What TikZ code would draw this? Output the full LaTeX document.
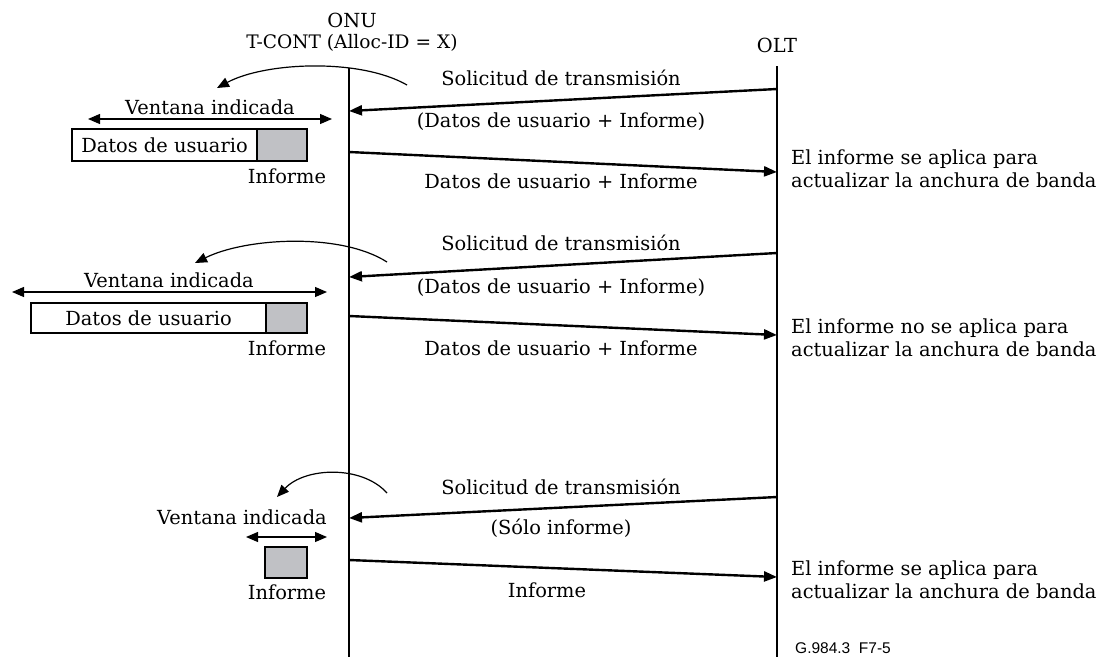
\documentclass[tikz,border=0pt]{standalone}
\usepackage{fontspec}
\setmainfont{DejaVu Serif}
\newfontfamily\figsans{Liberation Sans}
\usetikzlibrary{arrows.meta}
\definecolor{repgray}{RGB}{192,193,197}
\tikzset{
  lbl/.style={font=\fontsize{19.4}{23}\selectfont, inner sep=0pt},
  lifeline/.style={line width=1.5pt},
  msg/.style={line width=2.4pt, -{Triangle[length=13pt,width=10pt]}},
  curv/.style={line width=1.2pt, -{Triangle[length=12pt,width=10pt]}},
  win/.style={line width=1.2pt, {Triangle[length=12pt,width=10pt]}-{Triangle[length=12pt,width=10pt]}},
  databox/.style={draw, line width=1.4pt, fill=white, inner sep=0pt, outer sep=0pt, font=\fontsize{19.4}{23}\selectfont},
  repbox/.style={draw, line width=1.4pt, fill=repgray, inner sep=0pt, outer sep=0pt},
  sidetxt/.style={font=\fontsize{19.4}{23}\selectfont, inner sep=0pt, anchor=west, align=left}
}
\begin{document}
\begin{tikzpicture}[x=1pt,y=-1pt]
\useasboundingbox (0,0) rectangle (1099,659);
% headers
\node[lbl] (onu) at (352,20) {ONU};
\node[lbl, font=\fontsize{18.6}{22}\selectfont] (tcont) at (352,43) {T-CONT (Alloc-ID = X)};
\node[lbl] (olt) at (777,45) {OLT};
% lifelines
\coordinate (onuT) at (349,68);
\coordinate (onuB) at (349,657);
\coordinate (oltT) at (777,66);
\coordinate (oltB) at (777,657);
\draw[lifeline] (onuT) -- (onuB);
\draw[lifeline] (oltT) -- (oltB);

% ---------- group 1 ----------
\coordinate (r1s) at (777,89);
\coordinate (r1e) at (349,111);
\coordinate (d1s) at (349,152);
\coordinate (d1e) at (777,172);
\draw[msg] (r1s) -- (r1e);
\draw[msg] (d1s) -- (d1e);
\node[lbl] (sol1) at (561,78) {Solicitud de transmisión};
\node[lbl] (req1) at (561,122) {(Datos de usuario + Informe)};
\node[lbl] (dat1) at (561,181) {Datos de usuario + Informe};
\node[sidetxt] (eff1) at (791,168.5) {El informe se aplica para\\actualizar la anchura de banda};
\coordinate (c1s) at (407,85);
\coordinate (c1e) at (217,88);
\draw[curv] (c1s) .. controls (360,58) and (265,62) .. (c1e);
\coordinate (w1l) at (88,119);
\coordinate (w1r) at (332,119);
\draw[win] (w1l) -- (w1r);
\node[lbl] (ven1) at (210,107) {Ventana indicada};
\node[databox, minimum width=185pt, minimum height=32pt] (ud1) at (164.5,145) {Datos de usuario};
\node[repbox, minimum width=50pt, minimum height=32pt, anchor=west] (rp1) at (ud1.east) {};
\node[lbl] (inf1) at (287,176) {Informe};

% ---------- group 2 ----------
\coordinate (r2s) at (777,253);
\coordinate (r2e) at (349,277);
\coordinate (d2s) at (349,316);
\coordinate (d2e) at (777,335);
\draw[msg] (r2s) -- (r2e);
\draw[msg] (d2s) -- (d2e);
\node[lbl] (sol2) at (561,243) {Solicitud de transmisión};
\node[lbl] (req2) at (561,288) {(Datos de usuario + Informe)};
\node[lbl] (dat2) at (561,348) {Datos de usuario + Informe};
\node[sidetxt] (eff2) at (791,338) {El informe no se aplica para\\actualizar la anchura de banda};
\coordinate (c2s) at (387,262);
\coordinate (c2e) at (195,263);
\draw[curv] (c2s) .. controls (340,232) and (245,238) .. (c2e);
\coordinate (w2l) at (12,292);
\coordinate (w2r) at (327,292);
\draw[win] (w2l) -- (w2r);
\node[lbl] (ven2) at (169,280) {Ventana indicada};
\node[databox, minimum width=235pt, minimum height=30pt] (ud2) at (148.5,318) {Datos de usuario};
\node[repbox, minimum width=41pt, minimum height=30pt, anchor=west] (rp2) at (ud2.east) {};
\node[lbl] (inf2) at (287,348) {Informe};

% ---------- group 3 ----------
\coordinate (r3s) at (777,497);
\coordinate (r3e) at (349,518);
\coordinate (d3s) at (349,560);
\coordinate (d3e) at (777,577);
\draw[msg] (r3s) -- (r3e);
\draw[msg] (d3s) -- (d3e);
\node[lbl] (sol3) at (561,487) {Solicitud de transmisión};
\node[lbl] (req3) at (561,528) {(Sólo informe)};
\node[lbl] (dat3) at (547,590) {Informe};
\node[sidetxt] (eff3) at (791,580) {El informe se aplica para\\actualizar la anchura de banda};
\coordinate (c3s) at (387,493);
\coordinate (c3e) at (277,497);
\draw[curv] (c3s) .. controls (362,465) and (305,467) .. (c3e);
\coordinate (w3l) at (246,537);
\coordinate (w3r) at (327,537);
\draw[win] (w3l) -- (w3r);
\node[lbl] (ven3) at (242,517) {Ventana indicada};
\node[repbox, minimum width=42pt, minimum height=31pt] (rp3) at (286,562.5) {};
\node[lbl] (inf3) at (287,592) {Informe};

% figure id
\node[font=\figsans\fontsize{15.5}{18}\selectfont, inner sep=0pt] (figid) at (843,648) {G.984.3\ \ F7-5};
\end{tikzpicture}
\end{document}
